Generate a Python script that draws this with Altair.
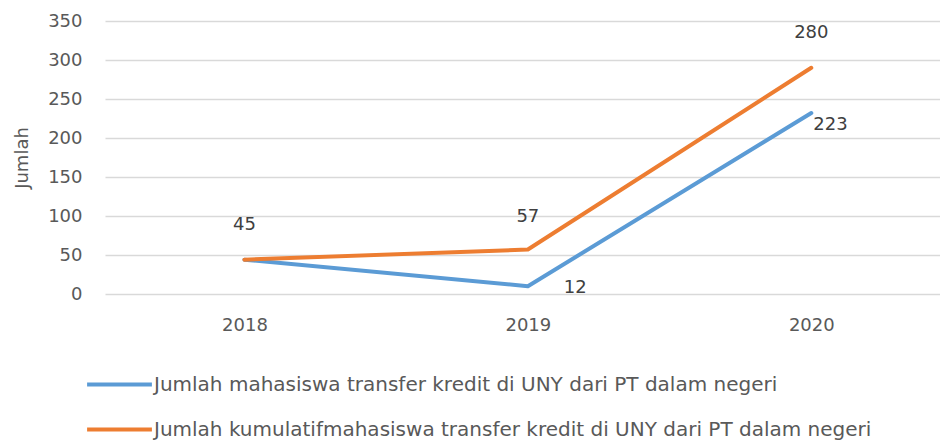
import altair as alt
import pandas as pd

years = ["2018", "2019", "2020"]
series_names = [
    "Jumlah mahasiswa transfer kredit di UNY dari PT dalam negeri",
    "Jumlah kumulatifmahasiswa transfer kredit di UNY dari PT dalam negeri",
]
# plotted positions
blue_values = [44, 10, 232]
orange_values = [44, 57, 290]
# data labels as printed in the picture
blue_labels = ["", "12", "223"]
orange_labels = ["45", "57", "280"]

rows = []
for y, v, l in zip(years, blue_values, blue_labels):
    rows.append({"year": y, "series": series_names[0], "value": v, "label": l})
for y, v, l in zip(years, orange_values, orange_labels):
    rows.append({"year": y, "series": series_names[1], "value": v, "label": l})
df = pd.DataFrame(rows)

colors = ["#5b9bd5", "#ed7d31"]

x_enc = alt.X(
    "year:N",
    title=None,
    scale=alt.Scale(type="point", padding=0.473, align=0.52),
    axis=alt.Axis(labelAngle=0, labelPadding=22, ticks=False, domain=False,
                  labelFontSize=18, labelColor="#595959", labelFont="DejaVu Sans"),
)
y_enc = alt.Y(
    "value:Q",
    title="Jumlah",
    scale=alt.Scale(domain=[0, 350]),
    axis=alt.Axis(values=[0, 50, 100, 150, 200, 250, 300, 350], ticks=False, domain=False,
                  labelOverlap=False,
                  labelPadding=23, labelFontSize=18, labelColor="#595959",
                  labelFont="DejaVu Sans", titleFontSize=18, titleColor="#595959",
                  titleFont="DejaVu Sans", titleFontWeight="normal", titlePadding=16,
                  gridColor="#d9d9d9", gridWidth=1.5),
)

base = alt.Chart(df)

lines = base.mark_line(strokeWidth=4, strokeCap="round", strokeJoin="round").encode(
    x=x_enc,
    y=y_enc,
    color=alt.Color(
        "series:N",
        scale=alt.Scale(domain=series_names, range=colors),
        legend=alt.Legend(
            title=None, orient="none", legendX=-20, legendY=329, direction="vertical",
            symbolType="stroke", symbolSize=4200, symbolStrokeWidth=4,
            labelFontSize=20, labelColor="#595959", labelFont="DejaVu Sans",
            labelLimit=1000, rowPadding=-20, labelOffset=0,
        ),
    ),
    order="year:N",
)


def lab(year, sidx, dx, dy, align="center"):
    return base.mark_text(dx=dx, dy=dy, align=align, fontSize=18, color="#404040",
                          font="DejaVu Sans").encode(
        x=x_enc, y=y_enc, text="label:N"
    ).transform_filter(
        (alt.datum.year == year) & (alt.datum.series == series_names[sidx])
    )


labels = [
    lab("2018", 1, 0, -35),
    lab("2019", 1, 0, -33),
    lab("2020", 1, 0, -35),
    lab("2019", 0, 36, 2, "left"),
    lab("2020", 0, 2, 12, "left"),
]

chart = alt.layer(lines, *labels).properties(
    width=835,
    height=273,
    autosize=alt.AutoSizeParams(type="none"),
    padding={"left": 97, "top": 13, "right": 0, "bottom": 148},
).configure_view(stroke=None)

chart.save("out.html", embed_options={"renderer": "svg", "actions": False})
